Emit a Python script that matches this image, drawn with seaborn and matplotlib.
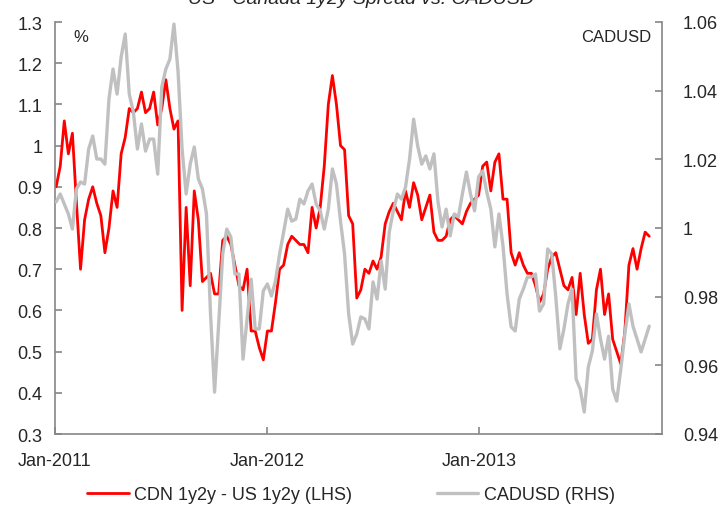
import matplotlib
matplotlib.use("Agg")
import matplotlib.pyplot as plt
import matplotlib.dates as mdates
from matplotlib.ticker import FixedLocator, FuncFormatter
import pandas as pd
import seaborn as sns

title = "US - Canada 1y2y Spread vs. CADUSD"
spread_label = "CDN 1y2y - US 1y2y (LHS)"
cad_label = "CADUSD (RHS)"

# weekly observations starting the first Monday of 2011
start_date = "2011-01-03"

spread = [0.90, 0.95, 1.06, 0.98, 1.03, 0.86, 0.70, 0.82, 0.87, 0.90,
          0.86, 0.83, 0.74, 0.80, 0.89, 0.85, 0.98, 1.02, 1.09, 1.08,
          1.09, 1.13, 1.08, 1.09, 1.13, 1.05, 1.09, 1.16, 1.09, 1.04,
          1.06, 0.60, 0.85, 0.66, 0.89, 0.82, 0.67, 0.68, 0.69, 0.64,
          0.64, 0.77, 0.78, 0.76, 0.71, 0.66, 0.65, 0.70, 0.55, 0.55,
          0.51, 0.48, 0.55, 0.55, 0.62, 0.70, 0.71, 0.76, 0.78, 0.77,
          0.76, 0.76, 0.74, 0.85, 0.80, 0.85, 0.95, 1.10, 1.17, 1.10,
          1.00, 0.99, 0.83, 0.81, 0.63, 0.65, 0.70, 0.69, 0.72, 0.70,
          0.73, 0.81, 0.84, 0.86, 0.84, 0.82, 0.89, 0.85, 0.91, 0.88,
          0.82, 0.85, 0.88, 0.79, 0.77, 0.77, 0.78, 0.82, 0.83, 0.82,
          0.81, 0.84, 0.86, 0.87, 0.88, 0.95, 0.96, 0.89, 0.96, 0.98,
          0.87, 0.87, 0.74, 0.71, 0.74, 0.71, 0.69, 0.69, 0.66, 0.62,
          0.64, 0.70, 0.73, 0.74, 0.70, 0.66, 0.65, 0.68, 0.59, 0.69,
          0.59, 0.52, 0.53, 0.65, 0.70, 0.59, 0.64, 0.53, 0.50, 0.47,
          0.55, 0.71, 0.75, 0.70, 0.75, 0.79, 0.78]

cadusd = [1.0076, 1.0099, 1.0070, 1.0041, 0.9997, 1.0114, 1.0134, 1.0128, 1.0230, 1.0268,
          1.0201, 1.0201, 1.0186, 1.0376, 1.0463, 1.0390, 1.0498, 1.0565, 1.0390, 1.0338,
          1.0230, 1.0303, 1.0224, 1.0259, 1.0259, 1.0157, 1.0411, 1.0463, 1.0492, 1.0594,
          1.0457, 1.0230, 1.0099, 1.0186, 1.0236, 1.0143, 1.0114, 1.0041, 0.9750, 0.9522,
          0.9720, 0.9924, 0.9997, 0.9974, 0.9866, 0.9866, 0.9618, 0.9735, 0.9851, 0.9706,
          0.9706, 0.9817, 0.9837, 0.9802, 0.9846, 0.9924, 0.9988, 1.0055, 1.0020, 1.0026,
          1.0084, 1.0070, 1.0108, 1.0128, 1.0070, 1.0050, 0.9997, 1.0055, 1.0172, 1.0128,
          1.0020, 0.9924, 0.9750, 0.9662, 0.9691, 0.9741, 0.9735, 0.9706, 0.9843, 0.9793,
          0.9904, 0.9822, 0.9988, 1.0050, 1.0099, 1.0084, 1.0119, 1.0201, 1.0317, 1.0239,
          1.0186, 1.0210, 1.0172, 1.0216, 1.0076, 1.0003, 1.0055, 0.9977, 1.0041, 1.0032,
          1.0099, 1.0163, 1.0099, 1.0050, 1.0149, 1.0166, 1.0105, 1.0055, 0.9945, 1.0041,
          0.9948, 0.9808, 0.9712, 0.9700, 0.9793, 0.9822, 0.9857, 0.9857, 0.9866, 0.9758,
          0.9779, 0.9939, 0.9924, 0.9799, 0.9648, 0.9706, 0.9779, 0.9822, 0.9560, 0.9531,
          0.9464, 0.9595, 0.9642, 0.9750, 0.9677, 0.9618, 0.9685, 0.9531, 0.9496, 0.9589,
          0.9691, 0.9779, 0.9714, 0.9677, 0.9639, 0.9677, 0.9714]

left_ticks = [0.3, 0.4, 0.5, 0.6, 0.7, 0.8, 0.9, 1.0, 1.1, 1.2, 1.3]
right_ticks = [0.94, 0.96, 0.98, 1.00, 1.02, 1.04, 1.06]
year_ticks = ["2011-01-01", "2012-01-01", "2013-01-01"]
x_range = ["2011-01-01", "2013-11-12"]

dates = pd.date_range(start_date, periods=len(spread), freq="7D")
df = pd.DataFrame({"date": dates, "spread": spread, "cadusd": cadusd})

sns.set_style("white")
plt.rcParams["font.family"] = ["Liberation Sans", "DejaVu Sans"]

axis_grey = "#868686"

fig = plt.figure(figsize=(7.21, 5.06), dpi=100)
ax = fig.add_axes([55 / 721, 1 - 435 / 506, 607 / 721, 412 / 506])
ax2 = ax.twinx()

sns.lineplot(data=df, x="date", y="spread", ax=ax, color="#ff0000",
             lw=2.0, label=spread_label, legend=False)
sns.lineplot(data=df, x="date", y="cadusd", ax=ax2, color="#c0c0c0",
             lw=2.4, label=cad_label, legend=False)

ax.set_xlim(pd.Timestamp(x_range[0]), pd.Timestamp(x_range[1]))
ax.set_ylim(left_ticks[0], left_ticks[-1])
ax2.set_ylim(right_ticks[0], right_ticks[-1])

ax.xaxis.set_major_locator(FixedLocator(mdates.date2num(pd.to_datetime(year_ticks))))
ax.xaxis.set_major_formatter(mdates.DateFormatter("%b-%Y"))
ax.yaxis.set_major_locator(FixedLocator(left_ticks))
ax.yaxis.set_major_formatter(FuncFormatter(lambda v, p: f"{round(v, 2):g}"))
ax2.yaxis.set_major_locator(FixedLocator(right_ticks))
ax2.yaxis.set_major_formatter(FuncFormatter(lambda v, p: f"{round(v, 2):g}"))

for a in (ax, ax2):
    a.set_xlabel("")
    a.set_ylabel("")
    a.grid(False)
    a.spines["top"].set_visible(False)
    for s in a.spines.values():
        s.set_color(axis_grey)
        s.set_linewidth(1.2)
ax.spines["right"].set_visible(False)
ax2.spines["left"].set_visible(False)
ax2.spines["bottom"].set_visible(False)

ax.tick_params(axis="y", direction="in", length=5, width=1.2, color=axis_grey,
               labelsize=13, pad=9, left=True)
ax.tick_params(axis="x", direction="in", length=5, width=1.2, color=axis_grey,
               labelsize=13, pad=13, bottom=True)
ax2.tick_params(axis="y", direction="in", length=5, width=1.2, color=axis_grey,
                labelsize=13, pad=15, right=True)

ax.text(0.03, 0.966, "%", transform=ax.transAxes, fontsize=12,
        ha="left", va="center")
ax.text(0.982, 0.966, "CADUSD", transform=ax.transAxes, fontsize=12,
        ha="right", va="center")

# title sits partly above the canvas, as in the source
fig.text(0.5, 1 - 4 / 506, title, ha="center", va="baseline",
         fontsize=14, fontstyle="italic")

handles = ax.get_lines()[:1] + ax2.get_lines()[:1]
fig.legend(handles, [spread_label, cad_label], loc="center",
           bbox_to_anchor=(351 / 721, 1 - 496 / 506), ncol=2, frameon=False,
           fontsize=13, handlelength=2.3, handletextpad=0.3, columnspacing=4.7)

fig.savefig("out.png", dpi=100)
